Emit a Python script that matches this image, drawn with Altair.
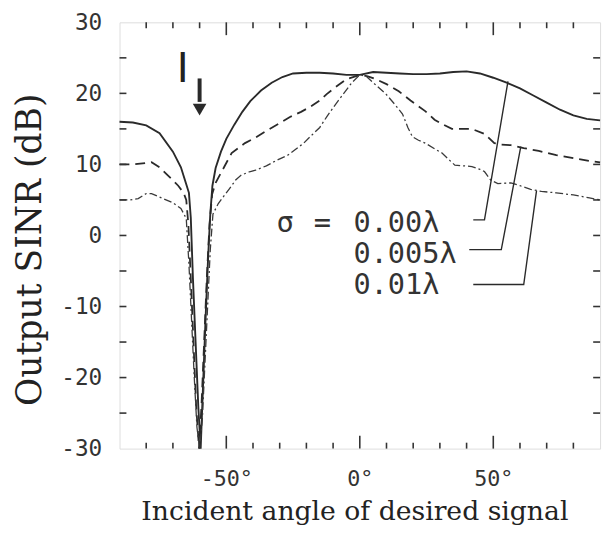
import altair as alt
import pandas as pd

# ---- data ----
ang_a = [-90, -85, -80, -75, -70, -67, -65, -64, -63.3, -62.5, -61.5, -60.5, -59.6, -58.8, -57.8,
         -56.8, -56, -55.2, -54, -52, -50, -47, -44, -41, -37, -33, -29, -25, -20, -15, -10, -5,
         0, 5, 10, 15, 20, 25, 30, 35, 40, 45, 50, 55, 60, 65, 70, 75, 80, 85, 90]
sinr_a = [16.0, 15.9, 15.5, 14.4, 11.8, 9.6, 7.2, 6.0, 2.5, -6, -15, -24, -30, -22, -12,
          -3, 3, 7, 9.5, 11.8, 13.6, 15.6, 17.4, 18.9, 20.4, 21.5, 22.3, 22.8, 22.9, 22.9, 22.8, 22.6,
          22.6, 23.0, 22.9, 22.8, 22.7, 22.7, 22.8, 23.0, 23.1, 22.8, 22.2, 21.5, 20.7, 19.7, 18.7, 17.7,
          16.9, 16.4, 16.2]

ang_b = [-90, -85, -80, -78, -75, -72, -68, -66, -65, -64.2, -63.3, -62.3, -61.3, -60.2, -59.3,
         -58.3, -57.3, -56.3, -55.3, -54, -52, -48, -43, -39, -35.6, -30, -26, -22, -18.6, -15,
         -12.4, -9, -5, 0, 3, 6, 10, 14.6, 19, 24.5, 28, 30.8, 34.5, 38, 42, 46.7, 50.4, 53,
         56.6, 61.4, 67, 73.6, 80, 86, 90]
sinr_b = [10.0, 10.0, 10.2, 10.3, 9.6, 8.5, 7.0, 6.0, 5.0, 1.5, -6, -15, -24, -30, -24,
          -15, -6, 1.5, 5.8, 7.4, 8.8, 11.6, 13.0, 13.8, 14.6, 15.8, 16.7, 17.4, 18.1, 19.0,
          19.9, 20.9, 22.0, 22.6, 22.4, 22.0, 21.3, 20.3, 19.0, 17.5, 16.3, 15.7, 15.0, 15.0, 15.0, 14.3, 13.0, 12.8,
          12.7, 12.3, 11.9, 11.3, 10.9, 10.5, 10.3]

ang_c = [-90, -86, -83, -80, -78, -75, -70, -67, -65, -64, -63, -62, -61, -60, -59, -58, -57,
         -56, -55, -53, -51, -49, -46.5, -44.4, -41, -39, -35, -31, -27, -24.5, -21, -18.6, -15,
         -12.4, -9, -6, -3, 0, 2.4, 5, 9.8, 13, 16, 18, 19.7, 22, 24.5, 28, 30.8, 33, 35.6, 39,
         42, 45, 46.7, 49, 51.7, 56.6, 60, 64, 68, 73.6, 80, 86, 90]
sinr_c = [5.0, 5.0, 5.2, 5.9, 5.9, 5.4, 4.6, 3.8, 2.4, -4, -12, -20, -27, -30, -26, -18, -10,
          -2, 3, 4.5, 5.5, 6.5, 7.8, 8.5, 9.0, 9.2, 9.8, 10.6, 11.3, 12.0, 13.0, 13.9, 15.2,
          16.7, 18.5, 20.0, 21.5, 22.6, 22.4, 21.5, 19.9, 18.5, 17.1, 15.2, 13.9, 13.4, 13.0, 12.2, 11.6, 10.8, 9.9, 9.8,
          9.7, 9.3, 9.0, 7.8, 7.3, 7.4, 7.0, 6.5, 6.2, 6.0, 5.7, 5.3, 5.0]

# legend labels and leader lines
leg_text = ["0.00\u03bb", "0.005\u03bb", "0.01\u03bb"]
leg_x = [-2.4, -2.4, -2.4]
leg_y = [1.8, -2.6, -7.05]
sym_text = ["\u03c3", "="]
sym_x = [-28, -14]
lead_id = [0, 0, 0, 1, 1, 1, 2, 2, 2]
lead_ord = [0, 1, 2, 0, 1, 2, 0, 1, 2]
lead_x = [42.5, 46.7, 55.5, 41.0, 53.0, 60.3, 42.5, 61.4, 66.2]
lead_y = [2.2, 2.2, 21.7, -2.0, -2.0, 12.5, -6.9, -6.9, 6.3]

# interference marker
marker_x = [-60]
marker_top = [22.1]
marker_bot = [18.8]
head_y = [17.7]
i_x = [-66.3]
i_y = [23.3]

# tick values
x_minor = [-80, -70, -60, -40, -30, -20, -10, 10, 20, 30, 40, 60, 70, 80]
x_major = [-50, 0, 50]
y_ticks = [-25, -20, -15, -10, -5, 0, 5, 10, 15, 20, 25]
y_labels = [-30, -20, -10, 0, 10, 20, 30]

W, H = 487, 432
INK = "#2a2a2a"

xs = alt.Scale(domain=[-90, 90], nice=False, zero=False)
ys = alt.Scale(domain=[-30, 30], nice=False, zero=False)

xaxis = alt.Axis(values=x_major,
                 labelExpr="(datum.value < 0 ? '-' : '') + abs(datum.value) + '\u00b0'",
                 ticks=False, domain=False, grid=False,
                 labelFont="DejaVu Sans Mono", labelFontSize=22, labelColor="#333",
                 labelPadding=20,
                 title="Incident angle of desired signal", titleFont="DejaVu Serif",
                 titleFontSize=27, titleFontWeight="normal", titleColor="#222",
                 titleX=238, titleY=72, titleAlign="center", titleBaseline="alphabetic")
yaxis = alt.Axis(values=y_labels,
                 labelExpr="(datum.value < 0 ? '-' : '') + abs(datum.value)",
                 ticks=False, domain=False, grid=False,
                 labelFont="DejaVu Sans Mono", labelFontSize=23, labelColor="#333",
                 labelPadding=18,
                 title="Output SINR (dB)", titleFont="DejaVu Serif",
                 titleFontSize=35, titleFontWeight="normal", titleColor="#222",
                 titleX=-91, titleY=230, titleAngle=-90, titleAlign="center",
                 titleBaseline="middle")

X = alt.X("angle:Q", scale=xs, axis=xaxis)
Y = alt.Y("sinr:Q", scale=ys, axis=yaxis)


def series(a, s):
    return pd.DataFrame({"angle": a, "sinr": s, "i": list(range(len(a)))})


line_a = alt.Chart(series(ang_a, sinr_a)).mark_line(color=INK, strokeWidth=1.9).encode(
    x=X, y=Y, order="i:Q")
line_b = alt.Chart(series(ang_b, sinr_b)).mark_line(
    color=INK, strokeWidth=1.8, strokeDash=[10, 6]).encode(x=X, y=Y, order="i:Q")
line_c = alt.Chart(series(ang_c, sinr_c)).mark_line(
    color="#3a3a3a", strokeWidth=1.3, strokeDash=[8, 3, 2, 3]).encode(x=X, y=Y, order="i:Q")

lead_df = pd.DataFrame({"angle": lead_x, "sinr": lead_y, "id": lead_id, "o": lead_ord})
leaders = alt.Chart(lead_df).mark_line(color=INK, strokeWidth=1.4).encode(
    x=X, y=Y, detail="id:N", order="o:Q")

leg_df = pd.DataFrame({"angle": leg_x, "sinr": leg_y, "t": leg_text})
leg = alt.Chart(leg_df).mark_text(align="left", baseline="middle", font="DejaVu Sans Mono",
                                  fontSize=29, color="#333").encode(x=X, y=Y, text="t:N")
sym_df = pd.DataFrame({"angle": sym_x, "sinr": [leg_y[0]] * 2, "t": sym_text})
sym = alt.Chart(sym_df).mark_text(align="center", baseline="middle", font="DejaVu Sans Mono",
                                  fontSize=29, color="#333").encode(x=X, y=Y, text="t:N")

mk_df = pd.DataFrame({"angle": marker_x, "sinr": marker_top, "s2": marker_bot, "h": head_y})
shaft = alt.Chart(mk_df).mark_rule(color=INK, strokeWidth=4).encode(
    x=X, y=Y, y2="s2:Q")
head = alt.Chart(mk_df).mark_point(shape="triangle-down", filled=True, color=INK,
                                   size=190, opacity=1).encode(
    x=X, y=alt.Y("h:Q", scale=ys, axis=yaxis))
i_df = pd.DataFrame({"angle": i_x, "sinr": i_y, "t": ["I"]})
i_lab = alt.Chart(i_df).mark_text(font="DejaVu Sans", fontSize=41, color="#222",
                                  baseline="middle", align="center").encode(x=X, y=Y, text="t:N")

# inward ticks
xmin_df = pd.DataFrame({"angle": x_minor})
xmaj_df = pd.DataFrame({"angle": x_major})
yt_df = pd.DataFrame({"sinr": y_ticks})
tk = dict(color="#333", strokeWidth=1.6)
t1 = alt.Chart(xmin_df).mark_rule(**tk).encode(x=X, y=alt.value(0), y2=alt.value(6))
t2 = alt.Chart(xmin_df).mark_rule(**tk).encode(x=X, y=alt.value(H), y2=alt.value(H - 6))
t3 = alt.Chart(xmaj_df).mark_rule(**tk).encode(x=X, y=alt.value(0), y2=alt.value(13))
t4 = alt.Chart(xmaj_df).mark_rule(**tk).encode(x=X, y=alt.value(H), y2=alt.value(H - 13))
t5 = alt.Chart(yt_df).mark_rule(**tk).encode(y=Y, x=alt.value(0), x2=alt.value(7))
t6 = alt.Chart(yt_df).mark_rule(**tk).encode(y=Y, x=alt.value(W), x2=alt.value(W - 7))

chart = alt.layer(line_a, line_b, line_c, leaders, leg, sym, shaft, head, i_lab,
                  t1, t2, t3, t4, t5, t6).properties(
    width=W, height=H,
    autosize=alt.AutoSizeParams(type="none"),
    padding={"left": 113, "top": 11, "right": 6, "bottom": 82},
).configure_view(stroke="#222", strokeWidth=1.8).configure(background="white")

chart.save("out.html", embed_options={"renderer": "svg", "actions": False})
